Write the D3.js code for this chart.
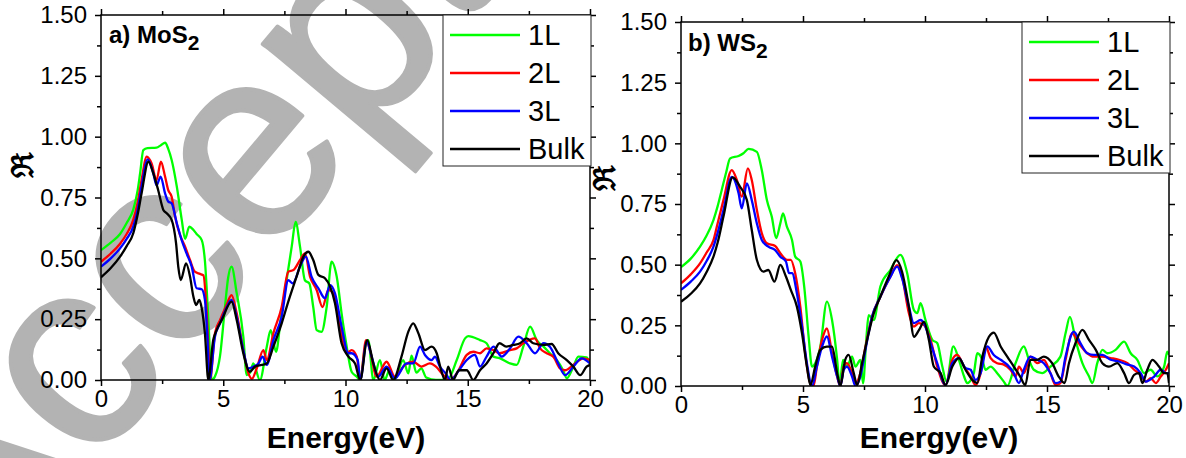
<!DOCTYPE html>
<html>
<head>
<meta charset="utf-8">
<script src="https://cdn.jsdelivr.net/npm/d3@7"></script>
<style>
  html, body { margin: 0; padding: 0; background: #fff; }
  svg { display: block; }
  text { font-family: "Liberation Sans", Arial, sans-serif; }
</style>
</head>
<body>
<svg id="chart" width="1186" height="458"></svg>
<script>
// ---------------- DATA ----------------
const seriesNames = ["1L", "2L", "3L", "Bulk"];
const xTicks = [0, 5, 10, 15, 20];
const yTicks = [0, 0.25, 0.5, 0.75, 1.0, 1.25, 1.5];
const panelTitles = [["a) MoS", "2"], ["b) WS", "2"]];
const xTitle = "Energy(eV)";
const yTitle = "\u211C";

const mos2_1L = [[0,0.534],[0.4,0.565],[0.78,0.60],[1.05,0.645],[1.32,0.70],[1.5,0.78],[1.6,0.85],[1.73,0.945],[1.9,0.953],[2.27,0.955],[2.45,0.965],[2.62,0.975],[2.75,0.95],[2.89,0.904],[3.1,0.795],[3.3,0.66],[3.44,0.58],[3.61,0.63],[3.75,0.62],[3.91,0.60],[4.12,0.575],[4.25,0.49],[4.39,0.25],[4.53,0],[4.66,0.014],[4.87,0.1],[5.07,0.30],[5.2,0.42],[5.34,0.466],[5.55,0.357],[5.82,0.178],[5.96,0.02],[6.1,0.03],[6.23,0.068],[6.5,0],[6.78,0.137],[6.94,0.205],[7.16,0.116],[7.35,0.25],[7.59,0.41],[7.8,0.548],[7.96,0.65],[8.14,0.548],[8.34,0.41],[8.52,0.397],[8.68,0.30],[8.82,0.205],[9.02,0.198],[9.23,0.30],[9.43,0.486],[9.64,0.425],[9.84,0.274],[10.05,0.137],[10.25,0.034],[10.46,0.014],[10.6,0],[10.8,0.137],[10.93,0.164],[11.14,0],[11.41,0.082],[11.6,0],[11.8,0.04],[12.0,0],[12.36,0.082],[12.57,0.027],[12.7,0.1],[12.9,0.03],[13.1,0.048],[13.3,0.01],[13.7,0],[14.2,0.005],[14.55,0.082],[14.89,0.171],[15.02,0.18],[15.5,0.164],[15.77,0.151],[16.05,0.096],[16.3,0.09],[16.73,0.068],[17.0,0.062],[17.27,0.137],[17.55,0.219],[17.82,0.164],[18.1,0.137],[18.36,0.11],[18.64,0.082],[18.9,0.04],[19.05,0.007],[19.32,0.055],[19.52,0.096],[19.86,0.093],[20,0.068]];
const mos2_2L = [[0,0.486],[0.4,0.52],[0.78,0.56],[1.05,0.60],[1.32,0.658],[1.5,0.73],[1.66,0.822],[1.87,0.918],[2.07,0.89],[2.27,0.822],[2.45,0.897],[2.62,0.836],[2.75,0.78],[2.89,0.753],[3.03,0.671],[3.23,0.596],[3.44,0.548],[3.64,0.493],[3.84,0.445],[4.05,0.436],[4.19,0.43],[4.3,0.315],[4.39,0.137],[4.46,0],[4.66,0.192],[4.87,0.247],[5.1,0.30],[5.34,0.349],[5.55,0.274],[5.82,0.123],[6.03,0.027],[6.17,0.005],[6.37,0.048],[6.64,0.123],[6.78,0.082],[7.05,0.192],[7.39,0.30],[7.66,0.445],[7.87,0.452],[8.14,0.493],[8.34,0.52],[8.55,0.425],[8.82,0.37],[9.06,0.30],[9.3,0.37],[9.5,0.356],[9.78,0.219],[10.05,0.11],[10.25,0.123],[10.46,0.096],[10.6,0],[10.84,0.164],[11.0,0.123],[11.27,0.014],[11.68,0.075],[12.02,0.014],[12.43,0.062],[12.77,0.075],[13.1,0.055],[13.45,0.068],[13.7,0.055],[14.0,0.02],[14.28,0],[14.55,0.027],[14.96,0.103],[15.23,0.116],[15.5,0.11],[15.77,0.13],[16.05,0.123],[16.3,0.11],[16.73,0.123],[17.0,0.13],[17.27,0.151],[17.75,0.171],[17.96,0.13],[18.23,0.11],[18.5,0.096],[18.77,0.048],[18.98,0.04],[19.32,0.062],[19.73,0.089],[20,0.082]];
const mos2_3L = [[0,0.466],[0.4,0.50],[0.78,0.541],[1.05,0.58],[1.32,0.63],[1.5,0.70],[1.66,0.795],[1.91,0.907],[2.14,0.849],[2.27,0.80],[2.44,0.836],[2.62,0.767],[2.75,0.733],[2.89,0.726],[3.1,0.644],[3.3,0.575],[3.5,0.52],[3.71,0.466],[3.91,0.377],[4.12,0.373],[4.25,0.329],[4.35,0.178],[4.44,0],[4.66,0.178],[4.87,0.233],[5.1,0.29],[5.34,0.329],[5.55,0.26],[5.82,0.123],[6.03,0.048],[6.23,0.055],[6.44,0.068],[6.61,0.096],[6.78,0.062],[7.05,0.164],[7.39,0.26],[7.66,0.41],[7.84,0.397],[8.14,0.466],[8.38,0.507],[8.61,0.425],[8.89,0.377],[9.16,0.336],[9.37,0.39],[9.57,0.356],[9.84,0.219],[10.12,0.11],[10.25,0.11],[10.5,0.082],[10.6,0],[10.87,0.157],[11.07,0.096],[11.34,0.014],[11.68,0.055],[12.02,0.007],[12.5,0.068],[12.77,0.068],[13.05,0.137],[13.25,0.103],[13.52,0.082],[13.66,0.096],[13.86,0.055],[14.1,0.027],[14.3,0],[14.64,0.04],[14.96,0.082],[15.3,0.103],[15.5,0.055],[15.77,0.096],[16.05,0.137],[16.39,0.096],[16.73,0.13],[17.07,0.178],[17.41,0.151],[17.75,0.11],[18.1,0.151],[18.36,0.137],[18.7,0.068],[18.98,0.02],[19.32,0.055],[19.66,0.089],[20,0.068]];
const mos2_Bulk = [[0,0.422],[0.4,0.46],[0.78,0.507],[1.05,0.55],[1.32,0.603],[1.5,0.68],[1.66,0.767],[1.94,0.897],[2.14,0.849],[2.34,0.78],[2.55,0.699],[2.69,0.685],[2.89,0.658],[3.07,0.562],[3.16,0.466],[3.26,0.411],[3.48,0.479],[3.64,0.425],[3.78,0.342],[3.89,0.308],[4.02,0.329],[4.12,0.295],[4.25,0.192],[4.39,0],[4.59,0.164],[4.73,0.205],[4.94,0.247],[5.34,0.322],[5.55,0.247],[5.82,0.11],[6.09,0.034],[6.3,0.055],[6.57,0.062],[6.78,0.068],[7.05,0.137],[7.39,0.233],[7.66,0.322],[8.0,0.425],[8.28,0.507],[8.48,0.527],[8.68,0.493],[8.89,0.432],[9.16,0.418],[9.37,0.384],[9.57,0.315],[9.84,0.151],[10.12,0.096],[10.39,0.068],[10.6,0],[10.89,0.164],[11.14,0.068],[11.41,0],[11.68,0.048],[11.95,0],[12.29,0.096],[12.57,0.199],[12.77,0.233],[12.98,0.192],[13.25,0.123],[13.52,0.137],[13.73,0.11],[13.93,0.034],[14.07,0],[14.2,0.055],[14.4,0],[14.64,0.04],[14.96,0.04],[15.23,0],[15.5,0.04],[15.77,0.068],[16.05,0.11],[16.3,0.151],[16.57,0.137],[16.86,0.144],[17.14,0.151],[17.41,0.171],[17.68,0.151],[18.1,0.144],[18.43,0.148],[18.7,0.11],[19.05,0.082],[19.32,0.055],[19.6,0.02],[19.86,0.055],[20,0.062]];

const ws2_1L = [[0,0.49],[0.4,0.525],[0.78,0.574],[1.05,0.62],[1.33,0.684],[1.5,0.74],[1.67,0.808],[1.85,0.88],[2.01,0.938],[2.36,0.948],[2.56,0.959],[2.77,0.977],[3.11,0.965],[3.31,0.89],[3.52,0.766],[3.72,0.698],[3.9,0.609],[4.07,0.67],[4.18,0.711],[4.34,0.657],[4.55,0.602],[4.68,0.533],[4.89,0.513],[5.05,0.41],[5.23,0.204],[5.37,0.08],[5.5,0.094],[5.71,0.162],[5.98,0.348],[6.19,0.272],[6.4,0.108],[6.5,0.004],[6.64,0.108],[6.8,0.08],[7.01,0.121],[7.15,0.08],[7.35,0.108],[7.46,0.011],[7.6,0.2],[7.69,0.292],[7.9,0.272],[8.17,0.41],[8.58,0.478],[8.99,0.54],[9.27,0.465],[9.54,0.314],[9.68,0.30],[9.82,0.341],[10.02,0.272],[10.3,0.19],[10.5,0.177],[10.71,0.08],[10.88,0.018],[11.16,0.163],[11.39,0.108],[11.6,0.04],[11.73,0.012],[12.0,0.053],[12.14,0.135],[12.35,0.108],[12.48,0.067],[12.69,0.08],[12.96,0.053],[13.23,0.018],[13.37,0],[13.71,0.094],[14.05,0.163],[14.26,0.108],[14.46,0.067],[14.8,0.053],[15.14,0.08],[15.55,0.121],[15.76,0.217],[15.94,0.285],[16.17,0.19],[16.45,0.094],[16.72,0.04],[16.86,0.012],[17.06,0.094],[17.27,0.149],[17.47,0.135],[17.81,0.149],[18.16,0.183],[18.43,0.135],[18.7,0.108],[18.98,0.053],[19.25,0.067],[19.52,0.04],[19.8,0.08],[19.93,0.142],[20,0.128]];
const ws2_2L = [[0,0.423],[0.4,0.46],[0.78,0.505],[1.05,0.55],[1.33,0.601],[1.5,0.67],[1.74,0.766],[2.08,0.89],[2.29,0.849],[2.49,0.78],[2.74,0.897],[2.9,0.849],[3.11,0.725],[3.31,0.63],[3.52,0.588],[3.86,0.577],[4.07,0.547],[4.34,0.52],[4.5,0.52],[4.68,0.465],[4.89,0.327],[5.09,0.135],[5.3,0.011],[5.43,0],[5.57,0.08],[5.78,0.19],[5.98,0.237],[6.19,0.135],[6.4,0.039],[6.53,0],[6.67,0.08],[6.8,0.094],[7.01,0.053],[7.15,0.011],[7.35,0.053],[7.56,0.162],[7.83,0.286],[8.17,0.368],[8.58,0.45],[8.86,0.498],[9.06,0.45],[9.34,0.3],[9.54,0.245],[9.75,0.259],[9.96,0.251],[10.23,0.19],[10.5,0.08],[10.84,0.004],[11.12,0.108],[11.32,0.128],[11.6,0.08],[11.87,0.039],[12.07,0.004],[12.28,0.053],[12.48,0.163],[12.69,0.115],[12.96,0.094],[13.23,0.088],[13.5,0.067],[13.71,0.039],[13.85,0.08],[14.05,0.053],[14.32,0.121],[14.6,0.094],[14.87,0.108],[15.14,0.053],[15.35,0.004],[15.55,0.012],[15.76,0.108],[16.03,0.217],[16.3,0.177],[16.65,0.135],[16.92,0.121],[17.27,0.121],[17.61,0.115],[17.95,0.108],[18.3,0.094],[18.57,0.067],[18.84,0.046],[19.05,0.018],[19.25,0.032],[19.46,0.012],[19.66,0.039],[19.87,0.067],[20,0.094]];
const ws2_3L = [[0,0.396],[0.4,0.43],[0.78,0.471],[1.05,0.515],[1.33,0.574],[1.5,0.63],[1.74,0.725],[2.08,0.862],[2.36,0.794],[2.49,0.732],[2.7,0.835],[2.9,0.766],[3.11,0.67],[3.31,0.602],[3.58,0.574],[3.86,0.56],[4.07,0.533],[4.3,0.513],[4.43,0.465],[4.55,0.465],[4.75,0.382],[4.96,0.245],[5.16,0.094],[5.37,0],[5.57,0.08],[5.78,0.162],[5.98,0.204],[6.19,0.121],[6.4,0.039],[6.53,0],[6.67,0.067],[6.8,0.08],[7.01,0.039],[7.15,0],[7.35,0.039],[7.56,0.149],[7.83,0.286],[8.17,0.368],[8.58,0.45],[8.86,0.492],[9.06,0.444],[9.34,0.327],[9.54,0.259],[9.82,0.272],[9.96,0.258],[10.23,0.177],[10.5,0.094],[10.84,0.004],[11.12,0.094],[11.39,0.115],[11.66,0.074],[11.87,0.067],[12.07,0.025],[12.28,0.053],[12.55,0.163],[12.82,0.128],[13.1,0.108],[13.37,0.088],[13.64,0.053],[13.85,0.012],[14.05,0.067],[14.32,0.121],[14.6,0.108],[14.87,0.094],[15.14,0.053],[15.35,0.012],[15.55,0.018],[15.76,0.121],[16.1,0.224],[16.37,0.177],[16.65,0.135],[16.92,0.128],[17.27,0.128],[17.61,0.108],[17.95,0.101],[18.3,0.088],[18.57,0.08],[18.84,0.053],[19.05,0.018],[19.39,0.039],[19.66,0.067],[19.87,0.053],[20,0.053]];
const ws2_Bulk = [[0,0.347],[0.4,0.38],[0.78,0.423],[1.05,0.47],[1.33,0.533],[1.5,0.59],[1.74,0.698],[2.12,0.86],[2.42,0.821],[2.7,0.766],[2.9,0.643],[3.11,0.519],[3.38,0.471],[3.58,0.478],[3.83,0.43],[4.07,0.499],[4.3,0.451],[4.5,0.396],[4.75,0.327],[4.96,0.217],[5.16,0.08],[5.3,0.004],[5.5,0.08],[5.71,0.149],[5.98,0.162],[6.19,0.162],[6.4,0.053],[6.53,0],[6.73,0.108],[6.87,0.128],[7.08,0.053],[7.22,0.004],[7.42,0.094],[7.69,0.217],[7.9,0.3],[8.17,0.368],[8.51,0.45],[8.83,0.519],[9.06,0.471],[9.34,0.327],[9.55,0.203],[9.75,0.23],[9.96,0.264],[10.16,0.19],[10.36,0.08],[10.64,0.053],[10.84,0.004],[11.12,0.08],[11.39,0.115],[11.66,0.067],[11.94,0.025],[12.14,0.012],[12.35,0.121],[12.62,0.203],[12.82,0.22],[13.1,0.163],[13.37,0.121],[13.64,0.08],[13.9,0.039],[14.11,0.004],[14.32,0.108],[14.6,0.108],[14.87,0.121],[15.21,0.094],[15.48,0.039],[15.72,0.012],[15.9,0.094],[16.17,0.177],[16.45,0.231],[16.72,0.19],[17.0,0.149],[17.27,0.094],[17.54,0.08],[17.88,0.094],[18.16,0.053],[18.36,0.012],[18.57,0.046],[18.77,0.053],[18.91,0.012],[19.11,0.067],[19.32,0.108],[19.59,0.08],[19.8,0.053],[19.93,0.053],[20,0.012]];

// ---------------- STYLE / LAYOUT ----------------
const colors = ["#00ff00", "#ff0000", "#0000ff", "#000000"];
const panels = [
  { series: [mos2_1L, mos2_2L, mos2_3L, mos2_Bulk], title: panelTitles[0],
    left: 101, right: 590, top: 15, bottom: 380,
    legend: { x: 443, y: 15, w: 148, h: 151 }, ylab: [22, 165], titlePos: [109, 43], xlabX: 346 },
  { series: [ws2_1L, ws2_2L, ws2_3L, ws2_Bulk], title: panelTitles[1],
    left: 681, right: 1169, top: 22, bottom: 386,
    legend: { x: 1022, y: 22, w: 148, h: 151 }, ylab: [604, 178], titlePos: [688, 51], xlabX: 939 }
];

const svg = d3.select("#chart");
svg.append("rect").attr("width", 1186).attr("height", 458).attr("fill", "#fff");

// watermark (behind everything)
svg.append("text")
  .attr("transform", "translate(-25,609) rotate(-50)")
  .attr("font-family", "'Liberation Serif', 'Times New Roman', serif")
  .attr("font-size", 270)
  .attr("fill", "#b3b3b3")
  .attr("stroke", "#b3b3b3").attr("stroke-width", 4).attr("stroke-linejoin", "round")
  .text("Accepted");

panels.forEach((p, pi) => {
  const x = d3.scaleLinear().domain([0, 20]).range([p.left, p.right]);
  const y = d3.scaleLinear().domain([0, 1.5]).range([p.bottom, p.top]);
  const g = svg.append("g");

  const clipId = "clip" + pi;
  svg.append("clipPath").attr("id", clipId).append("rect")
    .attr("x", p.left).attr("y", p.top - 2)
    .attr("width", p.right - p.left).attr("height", p.bottom - p.top + 2);

  const line = d3.line().x(d => x(d[0])).y(d => y(d[1])).curve(d3.curveMonotoneX);
  const lg = g.append("g").attr("clip-path", `url(#${clipId})`);
  p.series.forEach((s, i) => {
    lg.append("path").datum(s).attr("d", line)
      .attr("fill", "none").attr("stroke", colors[i])
      .attr("stroke-width", 2.3).attr("stroke-linejoin", "round");
  });

  const minorX = d3.range(2.5, 20, 5);
  const minorY = d3.range(0.125, 1.5, 0.25);
  const styleAxis = sel => {
    sel.select(".domain").remove();
    sel.selectAll(".tick line").attr("stroke", "#000").attr("stroke-width", 1.5);
    sel.selectAll(".tick text").attr("font-size", 24).attr("fill", "#000")
      .attr("font-family", "'Liberation Sans', Arial, sans-serif");
  };
  g.append("g").attr("transform", `translate(0,${p.bottom})`)
    .call(d3.axisBottom(x).tickValues(xTicks).tickSize(6).tickPadding(4).tickFormat(d3.format("d")))
    .call(styleAxis);
  g.append("g").attr("transform", `translate(0,${p.bottom})`)
    .call(d3.axisBottom(x).tickValues(minorX).tickSize(4).tickFormat(""))
    .call(styleAxis);
  g.append("g").attr("transform", `translate(0,${p.top})`)
    .call(d3.axisTop(x).tickValues(xTicks).tickSize(6).tickFormat(""))
    .call(styleAxis);
  g.append("g").attr("transform", `translate(0,${p.top})`)
    .call(d3.axisTop(x).tickValues(minorX).tickSize(4).tickFormat(""))
    .call(styleAxis);
  g.append("g").attr("transform", `translate(${p.left},0)`)
    .call(d3.axisLeft(y).tickValues(yTicks).tickSize(6).tickPadding(8).tickFormat(d3.format(".2f")))
    .call(styleAxis);
  g.append("g").attr("transform", `translate(${p.left},0)`)
    .call(d3.axisLeft(y).tickValues(minorY).tickSize(4).tickFormat(""))
    .call(styleAxis);
  g.append("g").attr("transform", `translate(${p.right},0)`)
    .call(d3.axisRight(y).tickValues(yTicks).tickSize(6).tickFormat(""))
    .call(styleAxis);
  g.append("g").attr("transform", `translate(${p.right},0)`)
    .call(d3.axisRight(y).tickValues(minorY).tickSize(4).tickFormat(""))
    .call(styleAxis);

  g.append("rect").attr("x", p.left).attr("y", p.top)
    .attr("width", p.right - p.left).attr("height", p.bottom - p.top)
    .attr("fill", "none").attr("stroke", "#000").attr("stroke-width", 1.5);

  const t = g.append("text").attr("x", p.titlePos[0]).attr("y", p.titlePos[1])
    .attr("font-size", 24).attr("font-weight", "bold").attr("fill", "#000");
  t.append("tspan").text(p.title[0]);
  t.append("tspan").attr("dy", 7).attr("font-size", 21).text(p.title[1]);

  g.append("text").attr("x", p.xlabX).attr("y", 448)
    .attr("text-anchor", "middle").attr("font-size", 30).attr("font-weight", "bold")
    .text(xTitle);
  g.append("text")
    .attr("transform", `translate(${p.ylab[0]},${p.ylab[1]}) rotate(-90)`)
    .attr("text-anchor", "middle").attr("dominant-baseline", "central")
    .attr("font-family", "'DejaVu Serif', serif").attr("font-size", 30).attr("font-weight", "bold")
    .text(yTitle);

  const L = p.legend;
  const lgd = g.append("g");
  lgd.append("rect").attr("x", L.x).attr("y", L.y).attr("width", L.w).attr("height", L.h)
    .attr("fill", "#fff").attr("stroke", "#222").attr("stroke-width", 1);
  seriesNames.forEach((n, i) => {
    const yy = L.y + 20 + i * 38;
    lgd.append("line").attr("x1", L.x + 7).attr("x2", L.x + 77)
      .attr("y1", yy).attr("y2", yy).attr("stroke", colors[i]).attr("stroke-width", 2.3);
    lgd.append("text").attr("x", L.x + 85).attr("y", yy)
      .attr("dominant-baseline", "central").attr("font-size", 29).attr("fill", "#000")
      .text(n);
  });
});
</script>
</body>
</html>
